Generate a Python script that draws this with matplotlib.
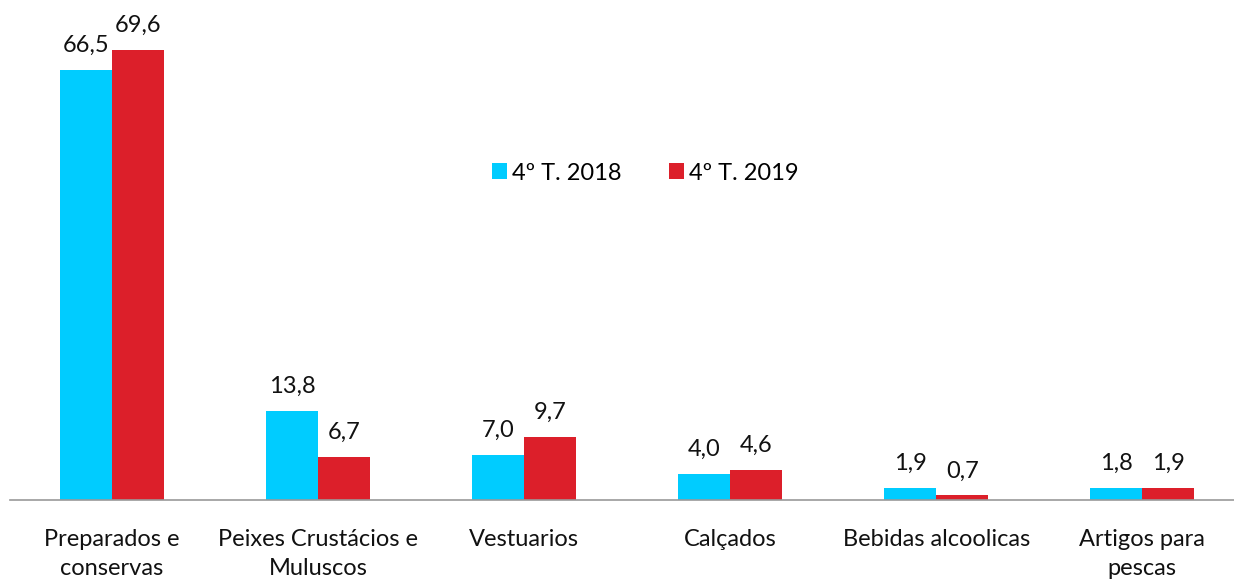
import numpy as np
import matplotlib
matplotlib.use("Agg")
import matplotlib.pyplot as plt

plt.rcParams['font.family'] = ['Lato', 'DejaVu Sans']

# data
categorias = ["Preparados e\nconservas", "Peixes Crustácios e\nMuluscos", "Vestuarios",
              "Calçados", "Bebidas alcoolicas", "Artigos para\npescas"]
t2018 = [66.5, 13.8, 7.0, 4.0, 1.9, 1.8]
t2019 = [69.6, 6.7, 9.7, 4.6, 0.7, 1.9]

fig = plt.figure(figsize=(12.34, 5.79), dpi=100)
ax = fig.add_axes([10/1234, 79/579, 1224/1234, 500/579])

x = np.arange(len(categorias))
w = 0.252
b1 = ax.bar(x - w/2, t2018, w, color="#00CCFF", label="4º T. 2018")
b2 = ax.bar(x + w/2, t2019, w, color="#DC1F2A", label="4º T. 2019")

for bars, vals in ((b1, t2018), (b2, t2019)):
    for r, v in zip(bars, vals):
        ax.text(r.get_x() + r.get_width()/2, v + 2.8, f"{v:.1f}".replace(".", ","),
                ha="center", va="baseline", fontsize=17, color="#111111")

ax.set_xlim(-0.495, 5.445)
ax.set_ylim(0, 77.3)
ax.set_xticks(x)
ax.set_xticklabels(categorias, fontsize=17, color="#111111", linespacing=1.45)
ax.tick_params(axis="x", length=0, pad=21)
ax.set_yticks([])
for s in ("top", "right", "left"):
    ax.spines[s].set_visible(False)
ax.spines["bottom"].set_color("#999999")
ax.spines["bottom"].set_linewidth(1.2)

ax.legend(loc="center", bbox_to_anchor=(635/1224, (500-173)/500), ncol=2, frameon=False,
          fontsize=17, handlelength=0.65, handleheight=0.65, handletextpad=0.2,
          columnspacing=2.0)

fig.savefig("out.png", dpi=100)
